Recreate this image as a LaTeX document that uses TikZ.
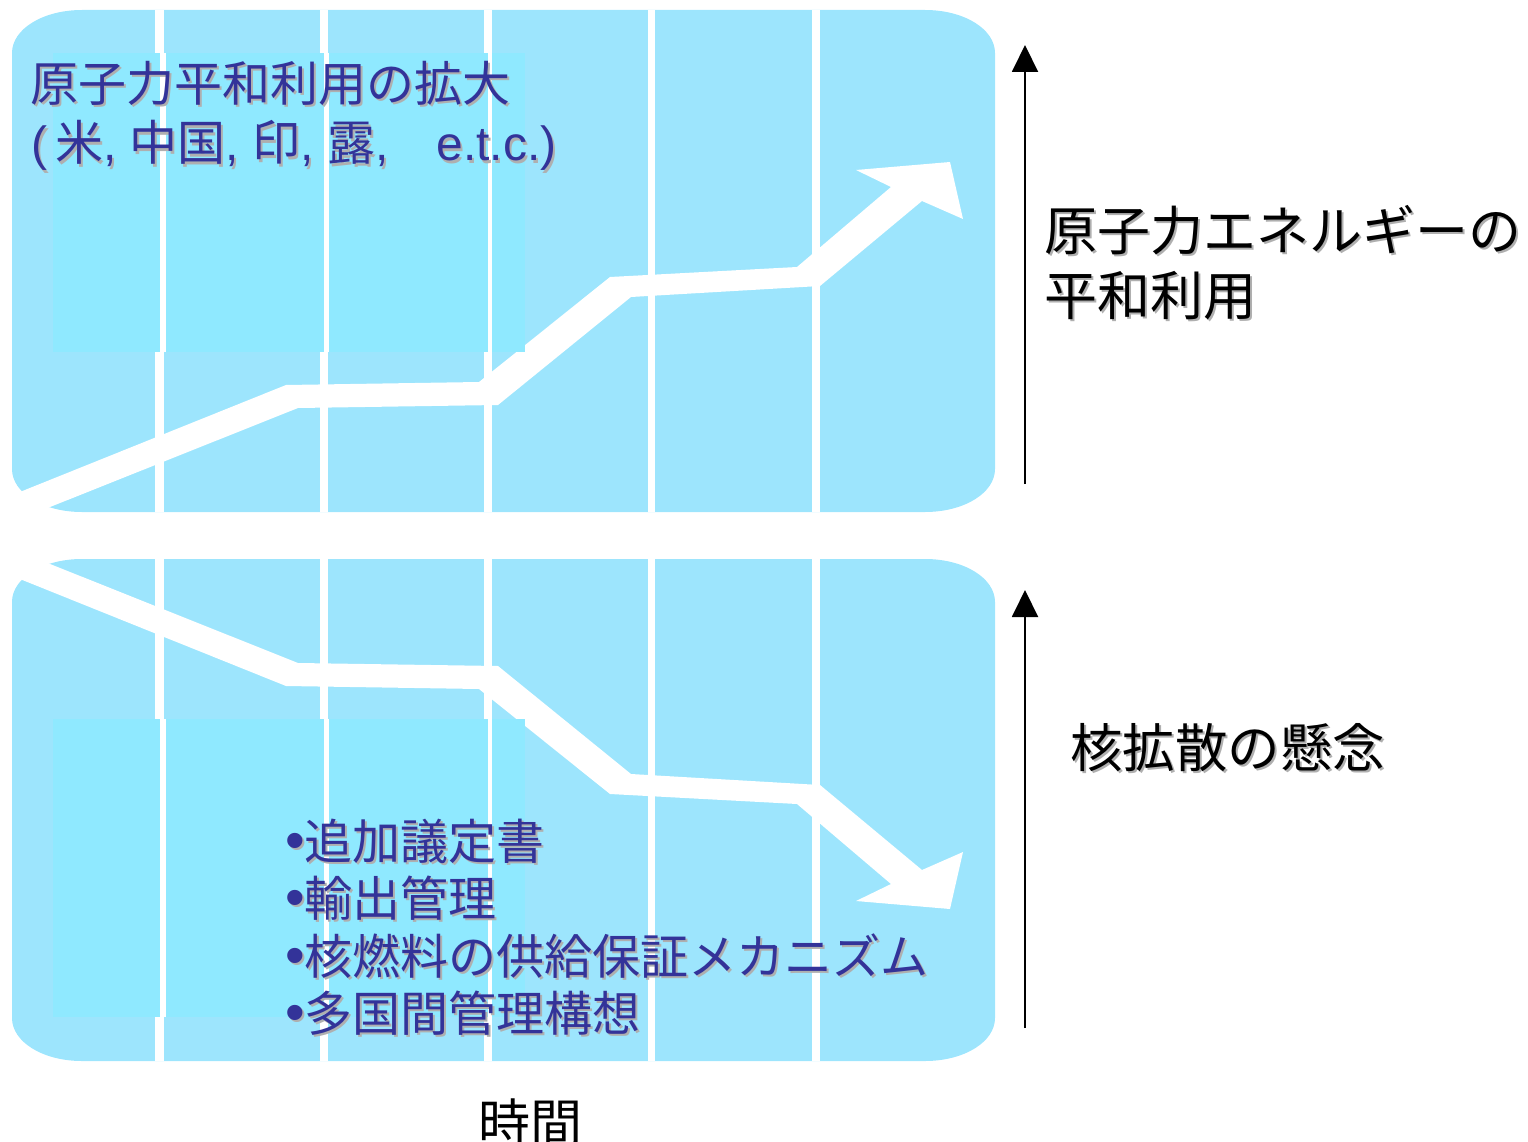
\documentclass[tikz,border=0pt]{standalone}
\usepackage{fontspec}
\setmainfont{Noto Sans CJK JP}
\newfontfamily\lat{Liberation Sans}
\usetikzlibrary{arrows.meta}
\definecolor{panelc}{HTML}{9DE5FD}
\definecolor{innerc}{HTML}{8FE9FF}
\definecolor{txtblue}{HTML}{333399}
\definecolor{shgray}{HTML}{AFAFAF}
\newcommand\shd[1]{\makebox[0pt][l]{\hspace{2pt}\raisebox{-2pt}{\textcolor{shgray}{#1}}}#1}
\newcommand\bul{{\lat\fontsize{56}{58}\selectfont •}}
\begin{document}
\begin{tikzpicture}[x=1pt,y=-1pt,
  panel/.style={fill=panelc, draw=none},
  innerpanel/.style={fill=innerc, draw=none},
  bar/.style={fill=white, draw=none},
  bigarrow/.style={fill=white, draw=none},
  axisarrow/.style={draw=black, line width=2pt, -{Triangle[length=27pt,width=26pt]}},
  bluetxt/.style={text=txtblue, inner sep=0pt, anchor=base west, font=\fontsize{48}{58}\selectfont},
  blacktxt/.style={text=black, inner sep=0pt, anchor=base west, font=\fontsize{53}{64}\selectfont},
]
\useasboundingbox (0,0) rectangle (1528,1142);
% panels
\fill[panel] (12,53) .. controls (12,29) and (43,10) .. (82,10) -- (925,10) .. controls (964,10) and (995,29) .. (995,53) -- (995,469) .. controls (995,493) and (964,512) .. (925,512) -- (82,512) .. controls (43,512) and (12,493) .. (12,469) -- cycle;
\fill[panel] (12,602) .. controls (12,578) and (43,559) .. (82,559) -- (925,559) .. controls (964,559) and (995,578) .. (995,602) -- (995,1018) .. controls (995,1042) and (964,1061) .. (925,1061) -- (82,1061) .. controls (43,1061) and (12,1042) .. (12,1018) -- cycle;
% bars
\foreach \a/\b in {155/164,320/328,484/492,648/655,812/820}{
  \fill[bar] (\a,10) rectangle (\b,512);
  \fill[bar] (\a,559) rectangle (\b,1061);
}
% big white arrows
\fill[bigarrow] (0,500) -- (286,385) -- (479,382) -- (610,277) -- (797,267) -- (891,187) -- (856,170) -- (950,162) -- (963,219) -- (922,201) -- (820,286) -- (631,297) -- (498,405) -- (298,408) -- (0,527) -- cycle;
\fill[bigarrow] (0,571) -- (286,686) -- (479,689) -- (610,794) -- (797,804) -- (891,884) -- (856,901) -- (950,909) -- (963,852) -- (922,870) -- (820,785) -- (631,774) -- (498,666) -- (298,663) -- (0,544) -- cycle;
% inner panels
\fill[innerpanel] (53,53) rectangle (525,352);
\fill[innerpanel] (53,719) rectangle (525,1017);
\foreach \a/\b in {160/166,324/329,488/492}{
  \fill[bar] (\a,53) rectangle (\b,352);
  \fill[bar] (\a,719) rectangle (\b,1017);
}
% axis arrows
\coordinate (upA0) at (1025,484);
\coordinate (upA1) at (1025,45);
\coordinate (upB0) at (1025,1028);
\coordinate (upB1) at (1025,590);
\draw[axisarrow] (upA0) -- (upA1);
\draw[axisarrow] (upB0) -- (upB1);
% texts
\node[bluetxt] (ta) at (30,102) {\shd{原子力平和利用の拡大}};
\node[bluetxt] (tb) at (31,161) {\shd{{\lat(}\hspace{8pt}米{\lat, }中国{\lat, }印{\lat, }露{\lat,}　{\lat e.t.c.)}}};
\node[bluetxt] (la) at (285,859) {\shd{\bul 追加議定書}};
\node[bluetxt] (lb) at (285,916) {\shd{\bul 輸出管理}};
\node[bluetxt] (lc) at (285,974) {\shd{\bul 核燃料の供給保証メカニズム}};
\node[bluetxt] (ld) at (285,1031) {\shd{\bul 多国間管理構想}};
\node[blacktxt] (ra) at (1044,250) {\shd{原子力エネルギーの}};
\node[blacktxt] (rb) at (1044,315) {\shd{平和利用}};
\node[blacktxt, font=\fontsize{52.5}{64}\selectfont] (rc) at (1070,767) {\shd{核拡散の懸念}};
\node[blacktxt, font=\fontsize{52}{64}\selectfont] (time) at (478,1142) {時間};
\end{tikzpicture}
\end{document}
